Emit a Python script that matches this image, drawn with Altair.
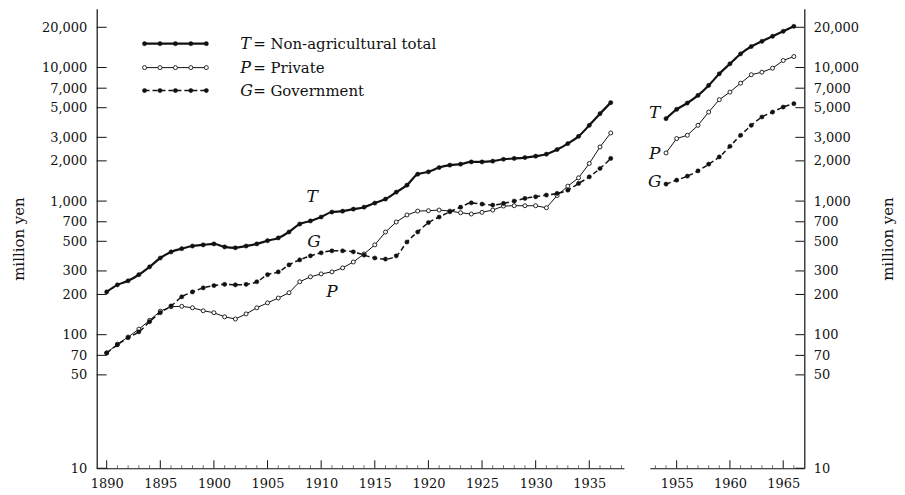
import altair as alt
import pandas as pd
import numpy as np

# ---------------- data (million yen) ----------------
years_prewar = list(range(1890, 1938))
total_prewar = [209, 236, 253, 281, 322, 375, 416, 440, 461, 470,
                478, 454, 447, 461, 478, 505, 530, 587, 673, 710,
                760, 828, 840, 870, 900, 966, 1035, 1167, 1316, 1589,
                1656, 1782, 1858, 1890, 1963, 1963, 1990, 2057, 2084, 2118,
                2168, 2244, 2432, 2694, 3054, 3690, 4508, 5458]
private_prewar = [73, 85, 96, 110, 128, 150, 162, 163, 159, 151,
                  146, 136, 131, 143, 159, 173, 188, 206, 249, 271,
                  285, 295, 316, 350, 402, 470, 587, 697, 787, 842,
                  847, 857, 842, 818, 800, 824, 857, 918, 923, 923,
                  923, 891, 1100, 1294, 1493, 1911, 2543, 3236]
government_prewar = [73, 84, 95, 105, 125, 146, 164, 192, 209, 224,
                     233, 238, 236, 238, 249, 281, 295, 333, 363, 389,
                     410, 424, 424, 417, 394, 375, 368, 389, 494, 587,
                     690, 760, 832, 900, 970, 950, 934, 961, 1000, 1047,
                     1077, 1109, 1141, 1208, 1355, 1518, 1754, 2084]

years_postwar = list(range(1954, 1967))
total_postwar = [4141, 4863, 5420, 6180, 7340, 8970, 10660, 12650, 14350, 15710, 17130, 18670, 20330]
private_postwar = [2293, 2938, 3110, 3690, 4637, 5741, 6545, 7636, 8828, 9225, 9884, 11280, 12080]
government_postwar = [1340, 1435, 1537, 1683, 1889, 2141, 2572, 3110, 3690, 4260, 4637, 5055, 5357]

y_tick_values = [10, 50, 70, 100, 200, 300, 500, 700, 1000, 2000, 3000, 5000, 7000, 10000, 20000]
x_ticks_prewar = [1890, 1895, 1900, 1905, 1910, 1915, 1920, 1925, 1930, 1935]
x_ticks_postwar = [1955, 1960, 1965]

series_codes = ["T", "P", "G"]
series_names = ["Non-agricultural total", "Private", "Government"]

# curve labels (year, value) in T, P, G order
label_years_prewar = [1909.15, 1911.0, 1909.33]
label_values_prewar = [1076, 210, 497]
label_years_postwar = [1952.94, 1952.94, 1952.94]
label_values_postwar = [4540, 2244, 1387]

# ---------------- style ----------------
FONT = "DejaVu Serif"
INK = "#111111"
H = 461
W_LEFT = 529
W_RIGHT = 155
Y_DOMAIN = [10, 27500]

styles = {
    "T": dict(line=dict(strokeWidth=2.2, interpolate="monotone"),
              point=dict(filled=True, fill=INK, stroke=INK, size=18, strokeWidth=0.5)),
    "P": dict(line=dict(strokeWidth=1.0),
              point=dict(filled=True, fill="white", stroke=INK, size=16, strokeWidth=0.9)),
    "G": dict(line=dict(strokeWidth=1.5, strokeDash=[5, 3], interpolate="monotone"),
              point=dict(filled=True, fill=INK, stroke=INK, size=18, strokeWidth=0.5)),
}


def make_panel(years, T, P, G, xdom, xticks, lab_years, lab_vals, side, width, legend):
    n = len(years)
    df = pd.DataFrame({
        "year": years * 3,
        "value": T + P + G,
        "series": ["T"] * n + ["P"] * n + ["G"] * n,
    })
    xs = alt.Scale(domain=xdom, nice=False, zero=False)
    ys = alt.Scale(type="log", domain=Y_DOMAIN, nice=False)

    common = dict(values=y_tick_values, format=",d", ticks=False, tickSize=0, grid=False,
                  labelFont=FONT, labelFontSize=13, labelColor=INK,
                  titleFont=FONT, titleFontSize=15, titleFontWeight="normal", titleColor=INK,
                  domain=True, domainColor=INK, domainWidth=1.2,
                  title="million yen", titleY=H / 2, titleAngle=270,
                  titleAlign="center", titleBaseline="middle")
    if side == "left":
        yaxis = alt.Axis(orient="left", labelPadding=10, titleX=-78, **common)
    else:
        yaxis = alt.Axis(orient="right", labelPadding=9, labelAlign="left", titleX=83, **common)
    xaxis = alt.Axis(values=xticks, format="d", labelPadding=9, title=None, labelFlush=False,
                     ticks=False, tickSize=0, grid=False, labelFont=FONT, labelFontSize=13,
                     labelColor=INK, domain=True, domainColor=INK, domainWidth=1.2)

    X = alt.X("year:Q", scale=xs, axis=xaxis)
    Y = alt.Y("value:Q", scale=ys, axis=yaxis)

    layers = []
    for code in series_codes:
        sub = df[df.series == code]
        st = styles[code]
        layers.append(alt.Chart(sub).mark_line(color=INK, **st["line"]).encode(x=X, y=Y))
        layers.append(alt.Chart(sub).mark_point(shape="circle", opacity=1, **st["point"]).encode(x=X, y=Y))

    # inward y ticks
    yt = pd.DataFrame({"value": y_tick_values})
    if side == "left":
        tick_x, tick_x2 = 0, 10
    else:
        tick_x, tick_x2 = width - 9, width
    layers.append(alt.Chart(yt).mark_rule(color=INK, strokeWidth=1).encode(
        y=Y, x=alt.value(tick_x), x2=alt.value(tick_x2)))

    # inward x ticks: major and minor
    xt = pd.DataFrame({"year": xticks})
    layers.append(alt.Chart(xt).mark_rule(color=INK, strokeWidth=1).encode(
        x=X, y=alt.value(H), y2=alt.value(H - 8)))
    minor = [yv for yv in range(int(np.ceil(xdom[0])), int(np.floor(xdom[1])) + 1) if yv not in xticks]
    xm = pd.DataFrame({"year": minor})
    layers.append(alt.Chart(xm).mark_rule(color="#444444", strokeWidth=0.8).encode(
        x=X, y=alt.value(H), y2=alt.value(H - 3)))

    # curve labels
    lab = pd.DataFrame({"year": lab_years, "value": lab_vals, "code": series_codes})
    layers.append(alt.Chart(lab).mark_text(font=FONT, fontSize=17, fontStyle="italic", color=INK,
                                           align="center", baseline="middle").encode(
        x=X, y=Y, text="code:N"))

    if legend:
        leg_y = [35, 59, 82]
        rows = [{"series": c, "px": px, "py": py}
                for c, py in zip(series_codes, leg_y) for px in np.linspace(48, 110, 5)]
        leg = pd.DataFrame(rows)
        for code in series_codes:
            sub = leg[leg.series == code]
            st = styles[code]
            line_style = {k: v for k, v in st["line"].items() if k != "interpolate"}
            layers.append(alt.Chart(sub).mark_line(color=INK, **line_style).encode(
                x=alt.X("px:Q", scale=None, axis=None), y=alt.Y("py:Q", scale=None, axis=None)))
            layers.append(alt.Chart(sub).mark_point(shape="circle", opacity=1, **st["point"]).encode(
                x=alt.X("px:Q", scale=None, axis=None), y=alt.Y("py:Q", scale=None, axis=None)))
        lt = pd.DataFrame({"code": series_codes, "name": ["= " + s for s in series_names],
                           "py": leg_y})
        layers.append(alt.Chart(lt).mark_text(font=FONT, fontSize=16, fontStyle="italic", color=INK,
                                              align="left", baseline="middle").encode(
            x=alt.value(144), y=alt.Y("py:Q", scale=None, axis=None), text="code:N"))
        layers.append(alt.Chart(lt).mark_text(font=FONT, fontSize=15, color=INK,
                                              align="left", baseline="middle").encode(
            x=alt.value(157), y=alt.Y("py:Q", scale=None, axis=None), text="name:N"))

    return alt.layer(*layers).properties(width=width, height=H)


left = make_panel(years_prewar, total_prewar, private_prewar, government_prewar,
                  [1889.07, 1938.23], x_ticks_prewar, label_years_prewar, label_values_prewar,
                  "left", W_LEFT, True)
right = make_panel(years_postwar, total_postwar, private_postwar, government_postwar,
                   [1952.48, 1966.98], x_ticks_postwar, label_years_postwar, label_values_postwar,
                   "right", W_RIGHT, False)

chart = alt.hconcat(left, right, spacing=26, bounds="flush").properties(
    padding={"left": 4, "top": 0, "right": 2, "bottom": 0},
    background="white",
).configure_view(stroke=None)

chart.save("out.html", embed_options={"renderer": "svg", "actions": False})
